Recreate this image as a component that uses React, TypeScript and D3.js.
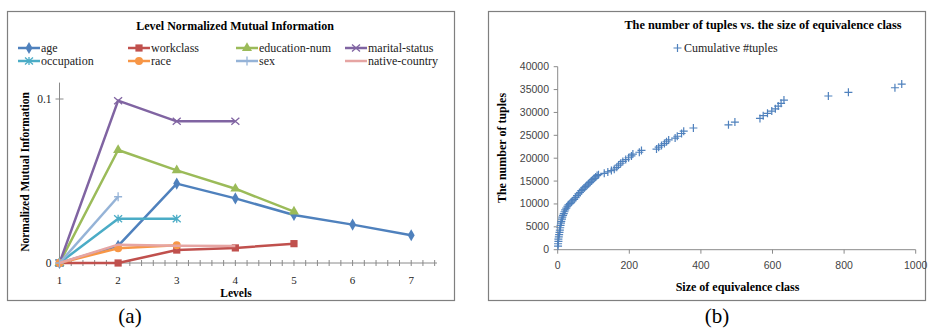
import React from 'react';
import * as d3 from 'd3';

// ---- chart (a) data ----
const levels = [1, 2, 3, 4, 5, 6, 7];
const ageNMI = [0, 0.0105, 0.0484, 0.0394, 0.0293, 0.0234, 0.0169];
const workclassNMI = [0, 0, 0.0079, 0.0092, 0.0118, null, null];
const educationNMI = [0, 0.0689, 0.0565, 0.0453, 0.0313, null, null];
const maritalNMI = [0, 0.099, 0.0864, 0.0864, null, null, null];
const occupationNMI = [0, 0.027, 0.027, null, null, null, null];
const raceNMI = [0, 0.009, 0.0108, null, null, null, null];
const sexNMI = [0, 0.0404, null, null, null, null, null];
const nativeNMI = [0, 0.0112, 0.0105, 0.0104, null, null, null];
const nmiTicks = [0, 0.1];

// ---- chart (b) data ----
const classSizes = [
  1, 1, 2, 2, 3, 4, 5, 6, 7, 8, 9, 10, 12, 13, 15, 17, 19, 21, 24, 27, 30, 34, 38, 42, 46, 50,
  54, 58, 62, 66, 70, 74, 78, 82, 86, 90, 94, 98, 102, 106, 110, 114, 130, 140, 150, 158, 165,
  170, 176, 182, 190, 198, 206, 210, 228, 234, 276, 282, 290, 298, 304, 310, 328, 334, 346, 352,
  379, 477, 495, 565, 574, 586, 598, 608, 616, 624, 632, 756, 812, 942, 961,
];
const cumulativeTuples = [
  800, 1300, 1800, 2300, 2800, 3300, 3800, 4300, 4800, 5300, 5800, 6200, 6700, 7100, 7500, 7900,
  8300, 8700, 9100, 9500, 9800, 10100, 10400, 10700, 11000, 11400, 11800, 12200, 12500, 12900,
  13200, 13500, 13800, 14100, 14400, 14700, 15000, 15300, 15600, 15900, 16200, 16400, 16700,
  17000, 17300, 17600, 18000, 18500, 18900, 19300, 19700, 20100, 20500, 20900, 21300, 21700,
  22000, 22400, 22800, 23200, 23600, 24000, 24400, 24800, 25400, 25900, 26600, 27300, 27900,
  28700, 29300, 29800, 30300, 30800, 31400, 32000, 32700, 33600, 34400, 35400, 36200,
];
const tupleTicks = [0, 5000, 10000, 15000, 20000, 25000, 30000, 35000, 40000];
const sizeTicks = [0, 200, 400, 600, 800, 1000];

const series = [
  { name: 'age', values: ageNMI, color: '#4F81BD', marker: 'diamond' },
  { name: 'workclass', values: workclassNMI, color: '#C0504D', marker: 'square' },
  { name: 'education-num', values: educationNMI, color: '#9BBB59', marker: 'triangle' },
  { name: 'marital-status', values: maritalNMI, color: '#8064A2', marker: 'x' },
  { name: 'occupation', values: occupationNMI, color: '#4BACC6', marker: 'star' },
  { name: 'race', values: raceNMI, color: '#F79646', marker: 'circle' },
  { name: 'sex', values: sexNMI, color: '#95B3D7', marker: 'plus' },
  { name: 'native-country', values: nativeNMI, color: '#E6A5A3', marker: 'none' },
];

const serif = '"Liberation Serif", "Times New Roman", serif';
const sans = '"Liberation Sans", Arial, sans-serif';
const axisColor = '#8a8a8a';

function Marker({ type, x, y, color }: { type: string; x: number; y: number; color: string }) {
  const t = `translate(${x},${y})`;
  if (type === 'diamond') return <path transform={t} d={d3.symbol(d3.symbolDiamond, 42)()!} fill={color} />;
  if (type === 'square') return <path transform={t} d={d3.symbol(d3.symbolSquare, 52)()!} fill={color} />;
  if (type === 'triangle') return <path transform={t} d={d3.symbol(d3.symbolTriangle, 44)()!} fill={color} />;
  if (type === 'circle') return <circle cx={x} cy={y} r={4} fill={color} />;
  if (type === 'x')
    return <path transform={t} d="M-4,-3.5L4,3.5M-4,3.5L4,-3.5" stroke={color} strokeWidth={1.3} fill="none" />;
  if (type === 'star')
    return <path transform={t} d="M-4,-3.5L4,3.5M-4,3.5L4,-3.5M0,-4L0,4" stroke={color} strokeWidth={1.3} fill="none" />;
  if (type === 'plus')
    return <path transform={t} d="M-4,0L4,0M0,-4.5L0,4.5" stroke={color} strokeWidth={1.3} fill="none" />;
  return null;
}

function ChartA() {
  const x = d3.scaleLinear().domain([1, 7.44]).range([59.5, 437]);
  const y = d3.scaleLinear().domain([0, 0.11]).range([263, 82.6]);
  const line = d3
    .line<number | null>()
    .defined((d) => d !== null)
    .x((_, i) => x(levels[i]))
    .y((d) => y(d as number));
  const minor = d3.range(1, 7.41, 0.2);
  const legendX = [18, 128, 236, 345];
  const legendY = [48, 61];

  return (
    <g>
      <rect x={7.5} y={11.5} width={447} height={289} fill="#fff" stroke="#7f7f7f" strokeWidth={1.2} />
      <text x={235} y={30} textAnchor="middle" fontFamily={serif} fontWeight="bold" fontSize={12}>
        Level Normalized Mutual Information
      </text>
      {series.map((s, i) => {
        const lx = legendX[i % 4];
        const ly = legendY[Math.floor(i / 4)];
        return (
          <g key={s.name}>
            <line x1={lx} x2={lx + 22} y1={ly} y2={ly} stroke={s.color} strokeWidth={2.5} />
            <Marker type={s.marker} x={lx + 11} y={ly} color={s.color} />
            <text x={lx + 23} y={ly + 4} fontFamily={serif} fontSize={12} fill="#222">
              {s.name}
            </text>
          </g>
        );
      })}
      {/* axes */}
      <line x1={x(1)} x2={x(1)} y1={y(0.11)} y2={y(0)} stroke={axisColor} />
      <line x1={x(1)} x2={x(7.44)} y1={y(0)} y2={y(0)} stroke={axisColor} />
      {nmiTicks.map((t) => (
        <g key={t}>
          <line x1={x(1) - 4} x2={x(1) + 4} y1={y(t)} y2={y(t)} stroke={axisColor} />
          <text x={x(1) - 8} y={y(t) + 4} textAnchor="end" fontFamily={serif} fontSize={11.5} fill="#222">
            {t}
          </text>
        </g>
      ))}
      {minor.map((t) => (
        <line key={t} x1={x(t)} x2={x(t)} y1={y(0) - 3} y2={y(0) + 3} stroke={axisColor} />
      ))}
      {levels.map((l) => (
        <text key={l} x={x(l)} y={284} textAnchor="middle" fontFamily={serif} fontSize={11} fill="#222">
          {l}
        </text>
      ))}
      <text x={236} y={297} textAnchor="middle" fontFamily={serif} fontWeight="bold" fontSize={11.5}>
        Levels
      </text>
      <text
        transform={`translate(29,172) rotate(-90)`}
        textAnchor="middle"
        fontFamily={serif}
        fontWeight="bold"
        fontSize={11.5}
      >
        Normalized Mutual Information
      </text>
      {series.map((s) => (
        <g key={s.name}>
          <path d={line(s.values)!} fill="none" stroke={s.color} strokeWidth={2.5} strokeLinejoin="round" />
          {s.values.map((v, i) =>
            v === null ? null : <Marker key={i} type={s.marker} x={x(levels[i])} y={y(v)} color={s.color} />
          )}
        </g>
      ))}
    </g>
  );
}

function ChartB() {
  const x = d3.scaleLinear().domain([0, 1000]).range([557.7, 915.7]);
  const y = d3.scaleLinear().domain([0, 40000]).range([249.7, 66.7]);
  const blue = '#4F81BD';
  return (
    <g>
      <rect x={488.5} y={11.5} width={437} height={289} fill="#fff" stroke="#7f7f7f" strokeWidth={1.2} />
      <text x={763} y={29} textAnchor="middle" fontFamily={serif} fontWeight="bold" fontSize={12.3}>
        The number of tuples vs. the size of equivalence class
      </text>
      <path d="M673.5,48L681.5,48M677.5,44L677.5,52" stroke={blue} strokeWidth={1.2} />
      <text x={684} y={52} fontFamily={serif} fontSize={12} fill="#222">
        Cumulative #tuples
      </text>
      <line x1={x(0)} x2={x(0)} y1={y(40000)} y2={y(0)} stroke={axisColor} />
      <line x1={x(0)} x2={x(1000)} y1={y(0)} y2={y(0)} stroke={axisColor} />
      {tupleTicks.map((t) => (
        <g key={t}>
          <line x1={x(0) - 4} x2={x(0)} y1={y(t)} y2={y(t)} stroke={axisColor} />
          <text x={549} y={y(t) + 3.5} textAnchor="end" fontFamily={sans} fontSize={10.5} fill="#444">
            {t}
          </text>
        </g>
      ))}
      {sizeTicks.map((t) => (
        <g key={t}>
          <line x1={x(t)} x2={x(t)} y1={y(0)} y2={y(0) + 4} stroke={axisColor} />
          <text x={x(t)} y={269} textAnchor="middle" fontFamily={sans} fontSize={10.5} fill="#444">
            {t}
          </text>
        </g>
      ))}
      <text x={737.5} y={291} textAnchor="middle" fontFamily={serif} fontWeight="bold" fontSize={12}>
        Size of equivalence class
      </text>
      <text
        transform={`translate(506,148) rotate(-90)`}
        textAnchor="middle"
        fontFamily={serif}
        fontWeight="bold"
        fontSize={12}
      >
        The number of tuples
      </text>
      {classSizes.map((s, i) => {
        const px = x(s);
        const py = y(cumulativeTuples[i]);
        return (
          <path
            key={i}
            d={`M${px - 4},${py}L${px + 4},${py}M${px},${py - 4}L${px},${py + 4}`}
            stroke={blue}
            strokeWidth={1.2}
          />
        );
      })}
    </g>
  );
}

export default function App() {
  return (
    <svg width={932} height={328} style={{ position: 'absolute', left: 0, top: 0, background: '#fff' }}>
      <rect width={932} height={328} fill="#fff" />
      <ChartA />
      <ChartB />
      <text x={130} y={323} textAnchor="middle" fontFamily={serif} fontSize={21}>
        (a)
      </text>
      <text x={717} y={323} textAnchor="middle" fontFamily={serif} fontSize={21}>
        (b)
      </text>
    </svg>
  );
}
